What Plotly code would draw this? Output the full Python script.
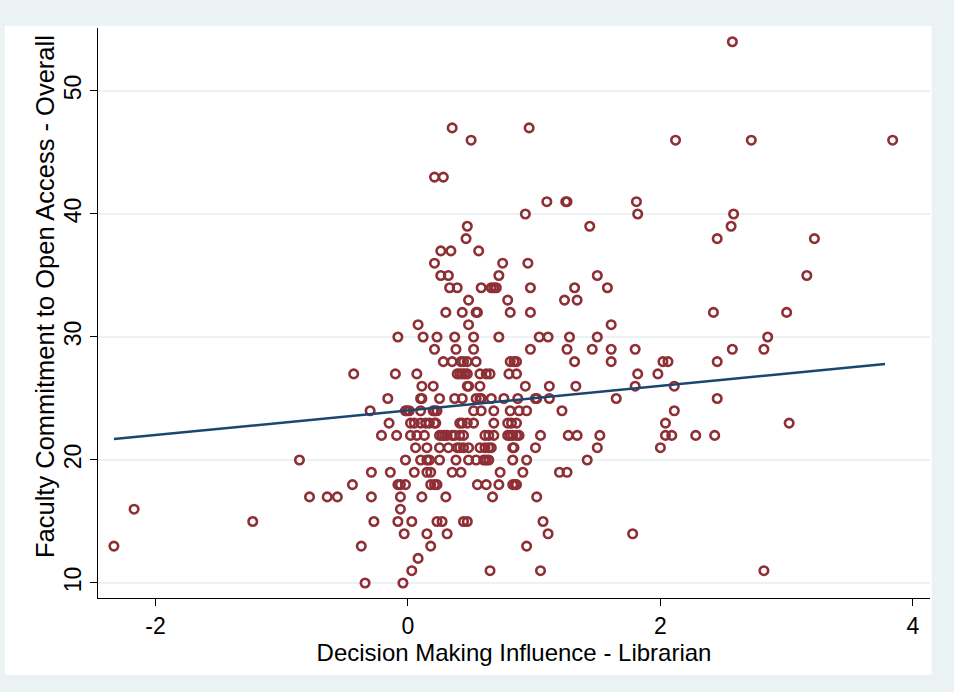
import plotly.graph_objects as go

# Decision Making Influence - Librarian (x) and Faculty Commitment (y), read row by row
influence = [
    -0.34, -0.04,                                   # 10
    0.03, 0.65, 1.05, 2.82,                         # 11
    0.08,                                           # 12
    -2.33, -0.37, 0.18, 0.94,                       # 13
    -0.03, 0.15, 0.31, 1.11, 1.78,                  # 14
    -1.23, -0.27, -0.08, 0.03, 0.23, 0.27, 0.44, 0.47, 1.07,   # 15
    -2.17, -0.06,                                   # 16
    -0.78, -0.64, -0.56, -0.29, -0.06, 0.11, 0.30, 0.67, 1.02, # 17
    -0.44, -0.08, -0.06, -0.02, 0.18, 0.21, 0.23, 0.55, 0.62, 0.72, 0.83, 0.85, 0.86,  # 18
    -0.29, -0.14, 0.05, 0.15, 0.18, 0.35, 0.42, 0.73, 0.91, 1.20, 1.26,  # 19
    -0.86, -0.02, 0.10, 0.15, 0.17, 0.25, 0.38, 0.48, 0.54, 0.60, 0.62, 0.64, 0.83, 0.94, 1.42,  # 20
    0.06, 0.15, 0.25, 0.32, 0.39, 0.41, 0.44, 0.48, 0.57, 0.61, 0.64, 0.66, 0.83, 0.84, 1.01, 1.50, 2.00,  # 21
    -0.21, -0.09, 0.02, 0.07, 0.13, 0.25, 0.27, 0.29, 0.31, 0.35, 0.37, 0.41, 0.44, 0.61, 0.64,
    0.68, 0.79, 0.81, 0.83, 0.86, 0.88, 1.05, 1.27, 1.34, 1.52, 2.04, 2.09, 2.28, 2.43,  # 22
    -0.15, 0.02, 0.05, 0.10, 0.14, 0.17, 0.21, 0.22, 0.41, 0.43, 0.47, 0.52, 0.68, 0.79, 0.82, 0.86, 2.04, 3.02,  # 23
    -0.30, -0.02, -0.01, 0.01, 0.10, 0.20, 0.21, 0.23, 0.52, 0.58, 0.68, 0.81, 0.88, 0.94, 1.22, 2.11,  # 24
    -0.16, 0.10, 0.11, 0.25, 0.37, 0.43, 0.54, 0.57, 0.58, 0.66, 0.76, 0.87, 1.01, 1.02, 1.12, 1.65, 2.45,  # 25
    0.11, 0.20, 0.47, 0.48, 0.57, 0.93, 1.12, 1.33, 1.80, 2.11,  # 26
    -0.43, -0.10, 0.07, 0.39, 0.41, 0.43, 0.45, 0.47, 0.57, 0.62, 0.65, 0.80, 0.86, 1.82, 1.98,  # 27
    0.28, 0.35, 0.42, 0.44, 0.47, 0.54, 0.81, 0.84, 0.86, 1.32, 1.61, 2.02, 2.06, 2.45,  # 28
    0.21, 0.38, 0.52, 0.97, 1.26, 1.46, 1.61, 1.80, 2.57, 2.82,  # 29
    -0.08, 0.12, 0.23, 0.37, 0.52, 0.72, 1.04, 1.11, 1.28, 1.50, 2.85,  # 30
    0.08, 0.48, 1.61,                               # 31
    0.30, 0.43, 0.54, 0.55, 0.81, 0.97, 2.42, 3.00, # 32
    0.48, 0.79, 1.24, 1.34,                         # 33
    0.33, 0.39, 0.58, 0.66, 0.68, 0.70, 0.97, 1.32, 1.58,  # 34
    0.26, 0.32, 0.72, 1.50, 3.16,                   # 35
    0.21, 0.75, 0.95,                               # 36
    0.26, 0.34, 0.56,                               # 37
    0.46, 2.45, 3.22,                               # 38
    0.47, 1.44, 2.56,                               # 39
    0.93, 1.82, 2.58,                               # 40
    1.10, 1.25, 1.26, 1.81,                         # 41
    0.21, 0.28,                                     # 43
    0.50, 2.12, 2.72, 3.84,                         # 46
    0.35, 0.96,                                     # 47
    2.57,                                           # 54
]

row_values = [10, 11, 12, 13, 14, 15, 16, 17, 18, 19, 20, 21, 22, 23, 24, 25, 26, 27, 28,
              29, 30, 31, 32, 33, 34, 35, 36, 37, 38, 39, 40, 41, 43, 46, 47, 54]
row_counts = [2, 4, 1, 4, 5, 9, 2, 9, 13, 11, 15, 17, 29, 18, 16, 17, 10, 15, 14,
              10, 11, 3, 8, 4, 9, 5, 3, 3, 3, 3, 3, 4, 2, 4, 2, 1]

commitment = []
for v, c in zip(row_values, row_counts):
    commitment += [v] * c

# Linear fit line endpoints (as drawn)
fit_x = [-2.33, 3.78]
fit_y = [21.7, 27.8]

x_ticks = [-2, 0, 2, 4]
y_ticks = [10, 20, 30, 40, 50]

FONT = "Liberation Sans, Arial, sans-serif"

fig = go.Figure()
fig.add_trace(go.Scatter(
    x=influence, y=commitment, mode="markers",
    marker=dict(symbol="circle-open", size=8.5, color="#8E2F36",
                line=dict(width=2.6, color="#8E2F36")),
    showlegend=False, hoverinfo="skip"))
fig.add_trace(go.Scatter(
    x=fit_x, y=fit_y, mode="lines",
    line=dict(color="#1A476F", width=2.5),
    showlegend=False, hoverinfo="skip"))

fig.add_shape(type="rect", xref="paper", yref="paper",
              x0=-0.112, x1=1.002, y0=-0.135, y1=1.004,
              fillcolor="white", line=dict(width=0), layer="below")

fig.add_annotation(text="Faculty Commitment to Open Access - Overall",
                   xref="paper", yref="paper", x=-0.0637, y=0.528,
                   xanchor="center", yanchor="middle", textangle=-90,
                   showarrow=False, font=dict(size=25.5, family=FONT, color="black"))

fig.update_layout(
    width=954, height=692, autosize=False,
    margin=dict(l=98, r=24, t=28, b=94, pad=0),
    paper_bgcolor="#EAF2F3", plot_bgcolor="white",
    font=dict(family=FONT, color="black"),
    xaxis=dict(range=[-2.456, 4.136], tickvals=x_ticks, ticktext=[str(t) for t in x_ticks],
               ticks="outside", ticklen=7, tickwidth=1.3, tickcolor="black",
               showline=True, linecolor="black", linewidth=1.3,
               showgrid=False, zeroline=False, tickfont=dict(size=23),
               title=dict(text="Decision Making Influence - Librarian",
                          font=dict(size=24), standoff=3)),
    yaxis=dict(range=[8.78, 55.12], tickvals=y_ticks, ticktext=[str(t) for t in y_ticks],
               tickangle=-90,
               ticks="outside", ticklen=7, tickwidth=1.3, tickcolor="black",
               showline=True, linecolor="black", linewidth=1.3,
               showgrid=True, gridcolor="#EAF2F3", gridwidth=2, zeroline=False,
               tickfont=dict(size=23)),
)

fig.write_html("out.html")
